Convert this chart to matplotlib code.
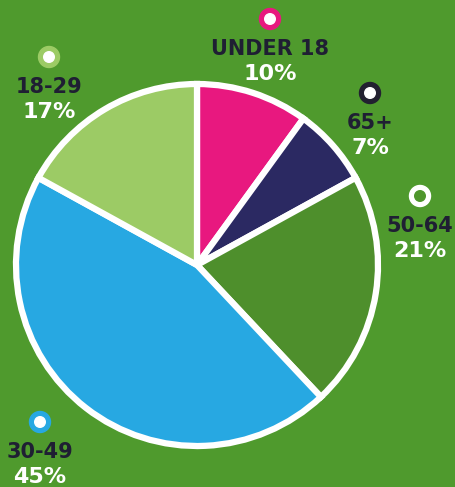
import matplotlib.pyplot as plt
from matplotlib.patches import Circle

# age groups, clockwise from 12 o'clock
groups = ['UNDER 18', '65+', '50-64', '30-49', '18-29']
shares = [10, 7, 21, 45, 17]
colors = ['#e8187f', '#2b2962', '#4e8f2c', '#27a8e2', '#9ccb65']
ring_colors = ['#e8187f', '#222030', '#ffffff', '#27a8e2', '#9ccb65']
dot_colors = ['#ffffff', '#ffffff', '#4e962c', '#ffffff', '#ffffff']

BG = '#4f9a2d'
W, H = 455, 487

# label anchor points (pixel coords from top-left)
label_pos = [(270, 19), (370, 93), (420, 196), (40, 422), (49, 57)]


def main():
    fig = plt.figure(figsize=(W / 100, H / 100), dpi=100)
    fig.patch.set_facecolor(BG)
    ax = fig.add_axes([0, 0, 1, 1])
    ax.set_facecolor(BG)

    ax.pie(shares, colors=colors, startangle=90, counterclock=False,
           center=(197, H - 265), radius=181,
           wedgeprops=dict(edgecolor='white', linewidth=4.5))

    for g, s, (x, y), rc, dc in zip(groups, shares, label_pos, ring_colors, dot_colors):
        yy = H - y
        ax.add_patch(Circle((x, yy), 10.5, color=rc, zorder=5))
        ax.add_patch(Circle((x, yy), 5.3, color=dc, zorder=6))
        ax.text(x, yy - 30, g, ha='center', va='center', color='#1f1f33',
                fontsize=15, fontweight='bold', family='DejaVu Sans')
        ax.text(x, yy - 55, f'{s}%', ha='center', va='center', color='white',
                fontsize=16, fontweight='bold', family='DejaVu Sans')

    ax.set_xlim(0, W)
    ax.set_ylim(0, H)
    ax.set_aspect('auto')
    ax.axis('off')
    fig.savefig('out.png', dpi=100, facecolor=BG)


if __name__ == '__main__':
    main()
